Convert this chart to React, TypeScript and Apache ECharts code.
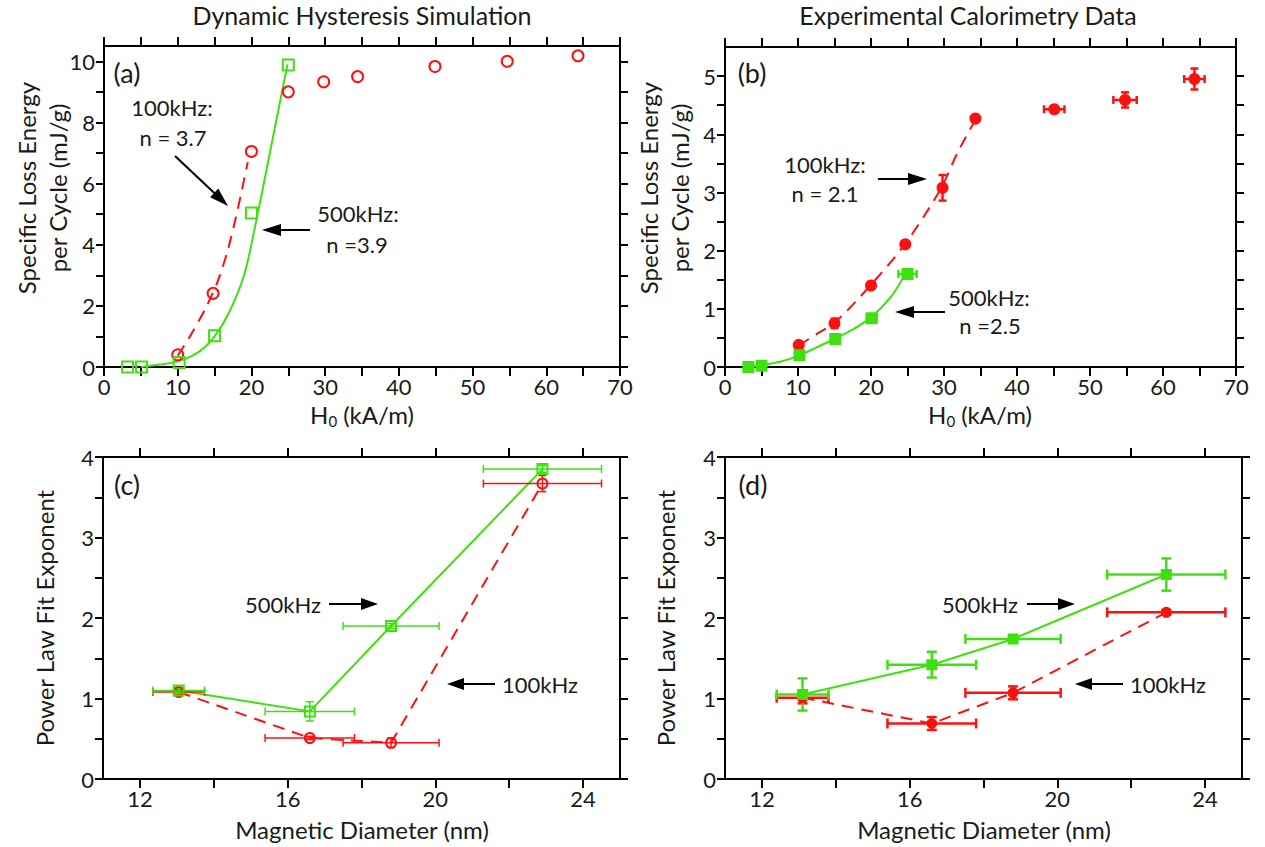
import React, { useEffect, useRef } from "react";
import * as echarts from "echarts";

const RED = "#ff1010";
const GREEN = "#3fe010";
const FONT = "Lato, 'Noto Sans', sans-serif";
const TEXT = "#1a1a1a";

// ---------- Panel (a): Dynamic Hysteresis Simulation ----------
const simField100 = [10.0, 14.8, 20.0, 25.0, 29.8, 34.4, 44.9, 54.7, 64.3];
const simLoss100 = [0.4, 2.41, 7.05, 9.0, 9.33, 9.5, 9.83, 10.0, 10.18];
const simField500 = [3.2, 5.1, 10.2, 15.0, 20.0, 25.0];
const simLoss500 = [0.0, 0.0, 0.15, 1.02, 5.04, 9.88];
const simFitField100 = [10.0, 11.9, 13.9, 15.5, 16.8, 17.8, 18.7, 19.5];
const simFitLoss100 = [0.37, 1.1, 1.98, 2.85, 3.83, 4.8, 5.78, 6.7];
const simFitField500 = [5.0, 7.6, 10.3, 13.0, 15.0, 17.0, 19.0, 20.5, 22.5, 23.9, 24.9];
const simFitLoss500 = [0.0, 0.08, 0.2, 0.52, 1.0, 1.8, 3.0, 4.6, 7.0, 8.7, 9.9];

// ---------- Panel (b): Experimental Calorimetry Data ----------
const expField100 = [10.1, 15.0, 20.0, 24.7, 29.8, 34.3, 45.1, 54.8, 64.3];
const expLoss100 = [0.38, 0.75, 1.4, 2.11, 3.08, 4.27, 4.43, 4.59, 4.95];
const expField100Err = [0, 0, 0, 0, 0, 0, 1.4, 1.6, 1.4];
const expLoss100Err = [0, 0.08, 0.05, 0.04, 0.22, 0.03, 0.05, 0.13, 0.18];
const expField500 = [3.2, 5.0, 10.2, 15.1, 20.1, 25.0];
const expLoss500 = [0.0, 0.02, 0.2, 0.48, 0.84, 1.6];
const expField500Err = [0, 0, 0, 0, 0.7, 1.25];
const expLoss500Err = [0, 0, 0, 0, 0, 0];
const expFitField100 = [10.1, 12.6, 15.1, 19.9, 24.7, 29.5, 31.8, 34.3];
const expFitLoss100 = [0.37, 0.57, 0.77, 1.4, 2.12, 3.05, 3.67, 4.25];
const expFitField500 = [3.2, 4.8, 7.55, 10.2, 12.6, 15.1, 17.6, 20.15, 22.7, 24.7];
const expFitLoss500 = [0.0, 0.03, 0.09, 0.2, 0.34, 0.49, 0.65, 0.87, 1.2, 1.6];

// ---------- Panel (c): simulated power-law exponents ----------
const simDiam = [13.05, 16.6, 18.8, 22.9];
const simDiamErr = [0.7, 1.21, 1.3, 1.6];
const simExp500 = [1.1, 0.84, 1.9, 3.85];
const simExp500Err = [0.03, 0.12, 0.03, 0.04];
const simExp100 = [1.08, 0.51, 0.45, 3.67];
const simExp100Err = [0.03, 0.02, 0.06, 0.1];

// ---------- Panel (d): experimental power-law exponents ----------
const expDiam = [13.1, 16.6, 18.8, 22.95];
const expDiamErr = [0.7, 1.2, 1.29, 1.6];
const expExp500 = [1.05, 1.42, 1.74, 2.54];
const expExp500Err = [0.2, 0.16, 0.03, 0.2];
const expExp100 = [1.01, 0.69, 1.07, 2.07];
const expExp100Err = [0.07, 0.08, 0.08, 0.03];

// ---------- ticks ----------
const fieldLabels = [0, 10, 20, 30, 40, 50, 60, 70];
const fieldTicks = [0, 5, 10, 15, 20, 25, 30, 35, 40, 45, 50, 55, 60, 65, 70];
const simLossLabels = [0, 2, 4, 6, 8, 10];
const simLossTicks = [0, 1, 2, 3, 4, 5, 6, 7, 8, 9, 10];
const expLossLabels = [0, 1, 2, 3, 4, 5];
const expLossTicks = [0, 0.5, 1, 1.5, 2, 2.5, 3, 3.5, 4, 4.5, 5];
const diamLabels = [12, 16, 20, 24];
const diamTicks = [12, 14, 16, 18, 20, 22, 24];
const exponentLabels = [0, 1, 2, 3, 4];
const exponentTicks = [0, 0.5, 1, 1.5, 2, 2.5, 3, 3.5, 4];

const TICK_FONT = 22;
const NOTE_FONT = 22;
const AXIS_FONT = 24;
const TITLE_FONT = 25;

const zip = (a: number[], b: number[]) => a.map((v, i) => [v, b[i]]);

function xAxisDef(grid: number, min: number, max: number, ticks: number[], labels: number[], top: boolean) {
  return {
    type: "value",
    gridIndex: grid,
    min,
    max,
    position: top ? "top" : "bottom",
    axisLine: { show: true, onZero: false, lineStyle: { color: "#000", width: 2 } },
    axisTick: { show: true, inside: false, length: 9, customValues: ticks, lineStyle: { color: "#000", width: 2 } },
    minorTick: { show: false },
    axisLabel: { show: !top, customValues: labels, margin: 8, fontSize: TICK_FONT, fontFamily: FONT, color: TEXT },
    splitLine: { show: false },
  };
}

function yAxisDef(grid: number, min: number, max: number, ticks: number[], labels: number[], right: boolean) {
  return {
    type: "value",
    gridIndex: grid,
    min,
    max,
    position: right ? "right" : "left",
    axisLine: { show: true, onZero: false, lineStyle: { color: "#000", width: 2 } },
    axisTick: { show: true, inside: false, length: 8, customValues: ticks, lineStyle: { color: "#000", width: 2 } },
    axisLabel: { show: !right, customValues: labels, margin: 9, fontSize: TICK_FONT, fontFamily: FONT, color: TEXT },
    splitLine: { show: false },
  };
}

function lineSeries(ax: number, xs: number[], ys: number[], color: string, dashed: boolean, smooth: boolean | number) {
  return {
    type: "line",
    xAxisIndex: ax,
    yAxisIndex: ax,
    data: zip(xs, ys),
    showSymbol: false,
    symbol: "none",
    smooth,
    lineStyle: { color, width: 2, type: dashed ? [12, 8] : "solid" },
    silent: true,
    z: 2,
  };
}

function markerSeries(ax: number, xs: number[], ys: number[], color: string, symbol: string, size: number, filled: boolean) {
  return {
    type: "scatter",
    xAxisIndex: ax,
    yAxisIndex: ax,
    data: zip(xs, ys),
    symbol,
    symbolSize: size,
    itemStyle: { color: filled ? color : "rgba(255,255,255,0)", borderColor: color, borderWidth: 2, opacity: 1 },
    silent: true,
    z: 4,
  };
}

function errorSeries(ax: number, xs: number[], ys: number[], xe: number[], ye: number[], color: string, width: number, cap: number) {
  return {
    type: "custom",
    xAxisIndex: ax,
    yAxisIndex: ax,
    data: xs.map((x, i) => [x, ys[i], xe[i], ye[i]]),
    encode: { x: 0, y: 1 },
    silent: true,
    z: 3,
    renderItem: (_params: any, api: any) => {
      const x = api.value(0);
      const y = api.value(1);
      const dx = api.value(2);
      const dy = api.value(3);
      const st = { stroke: color, lineWidth: width };
      const children: any[] = [];
      if (dx > 0) {
        const l = api.coord([x - dx, y]);
        const r = api.coord([x + dx, y]);
        children.push({ type: "line", shape: { x1: l[0], y1: l[1], x2: r[0], y2: r[1] }, style: st });
        children.push({ type: "line", shape: { x1: l[0], y1: l[1] - cap, x2: l[0], y2: l[1] + cap }, style: st });
        children.push({ type: "line", shape: { x1: r[0], y1: r[1] - cap, x2: r[0], y2: r[1] + cap }, style: st });
      }
      if (dy > 0) {
        const b = api.coord([x, y - dy]);
        const t = api.coord([x, y + dy]);
        children.push({ type: "line", shape: { x1: b[0], y1: b[1], x2: t[0], y2: t[1] }, style: st });
        children.push({ type: "line", shape: { x1: b[0] - cap, y1: b[1], x2: b[0] + cap, y2: b[1] }, style: st });
        children.push({ type: "line", shape: { x1: t[0] - cap, y1: t[1], x2: t[0] + cap, y2: t[1] }, style: st });
      }
      return { type: "group", children };
    },
  };
}

function arrow(x1: number, y1: number, x2: number, y2: number, L = 19, W = 6) {
  const a = Math.atan2(y2 - y1, x2 - x1);
  const c = Math.cos(a);
  const s = Math.sin(a);
  const bx = x2 - L * c;
  const by = y2 - L * s;
  return [
    { type: "line", shape: { x1, y1, x2: bx + 2 * c, y2: by + 2 * s }, style: { stroke: "#000", lineWidth: 2 } },
    {
      type: "polygon",
      shape: { points: [[x2, y2], [bx + W * s, by - W * c], [bx - W * s, by + W * c]] },
      style: { fill: "#000" },
    },
  ];
}

function label(text: string, x: number, y: number, size = NOTE_FONT, rotate = false) {
  return {
    type: "text",
    x,
    y,
    rotation: rotate ? Math.PI / 2 : 0,
    style: {
      text,
      font: `${size}px ${FONT}`,
      fontSize: size,
      fontFamily: FONT,
      fill: TEXT,
      align: "center",
      verticalAlign: "middle",
    },
  };
}

function fieldLabel(x: number, y: number) {
  return {
    type: "text",
    x,
    y,
    style: {
      text: "{m|H}{s|0}{m| (kA/m)}",
      align: "center",
      verticalAlign: "middle",
      fill: TEXT,
      font: `${AXIS_FONT}px ${FONT}`,
      rich: {
        m: { font: `${AXIS_FONT}px ${FONT}`, fill: TEXT, lineHeight: 28, verticalAlign: "middle" },
        s: { font: `15px ${FONT}`, fill: TEXT, lineHeight: 12, verticalAlign: "bottom" },
      },
    },
  };
}

function buildOption() {
  const grids = [
    { left: 104, top: 46, width: 516, height: 321 },
    { left: 725, top: 47, width: 511, height: 320 },
    { left: 103, top: 457, width: 517, height: 322 },
    { left: 725, top: 457, width: 517, height: 322 },
  ].map((g) => ({ ...g, show: false, outerBoundsMode: "none", containLabel: false }));

  const xAxis = [
    xAxisDef(0, 0, 70, fieldTicks, fieldLabels, false),
    xAxisDef(0, 0, 70, fieldTicks, [], true),
    xAxisDef(1, 0, 70, fieldTicks, fieldLabels, false),
    xAxisDef(1, 0, 70, fieldTicks, [], true),
    xAxisDef(2, 11, 25, diamTicks, diamLabels, false),
    xAxisDef(2, 11, 25, diamTicks, [], true),
    xAxisDef(3, 11, 25, diamTicks, diamLabels, false),
    xAxisDef(3, 11, 25, diamTicks, [], true),
  ];
  const yAxis = [
    yAxisDef(0, 0, 10.5, simLossTicks, simLossLabels, false),
    yAxisDef(0, 0, 10.5, simLossTicks, [], true),
    yAxisDef(1, 0, 5.5, expLossTicks, expLossLabels, false),
    yAxisDef(1, 0, 5.5, expLossTicks, [], true),
    yAxisDef(2, 0, 4, exponentTicks, exponentLabels, false),
    yAxisDef(2, 0, 4, exponentTicks, [], true),
    yAxisDef(3, 0, 4, exponentTicks, exponentLabels, false),
    yAxisDef(3, 0, 4, exponentTicks, [], true),
  ];

  const series: any[] = [
    // (a)
    lineSeries(0, simFitField100, simFitLoss100, RED, true, 0.3),
    lineSeries(0, simFitField500, simFitLoss500, GREEN, false, 0.3),
    markerSeries(0, simField100, simLoss100, RED, "circle", 11, false),
    markerSeries(0, simField500, simLoss500, GREEN, "rect", 11, false),
    // (b)
    lineSeries(2, expFitField100, expFitLoss100, RED, true, 0.3),
    lineSeries(2, expFitField500, expFitLoss500, GREEN, false, 0.3),
    errorSeries(2, expField100, expLoss100, expField100Err, expLoss100Err, RED, 2.5, 4),
    errorSeries(2, expField500, expLoss500, expField500Err, expLoss500Err, GREEN, 2.5, 4),
    markerSeries(2, expField100, expLoss100, RED, "circle", 10, true),
    markerSeries(2, expField500, expLoss500, GREEN, "rect", 10, true),
    // (c)
    errorSeries(4, simDiam, simExp100, simDiamErr, simExp100Err, RED, 1.5, 4),
    errorSeries(4, simDiam, simExp500, simDiamErr, simExp500Err, GREEN, 1.5, 4),
    lineSeries(4, simDiam, simExp100, RED, true, false),
    lineSeries(4, simDiam, simExp500, GREEN, false, false),
    markerSeries(4, simDiam, simExp100, RED, "circle", 10, false),
    markerSeries(4, simDiam, simExp500, GREEN, "rect", 10, false),
    // (d)
    errorSeries(6, expDiam, expExp100, expDiamErr, expExp100Err, RED, 2.5, 5),
    errorSeries(6, expDiam, expExp500, expDiamErr, expExp500Err, GREEN, 2.5, 5),
    lineSeries(6, expDiam, expExp100, RED, true, false),
    lineSeries(6, expDiam, expExp500, GREEN, false, false),
    markerSeries(6, expDiam, expExp100, RED, "circle", 9, true),
    markerSeries(6, expDiam, expExp500, GREEN, "rect", 9, true),
  ];

  const graphic: any[] = [
    label("Dynamic Hysteresis Simulation", 362, 15, TITLE_FONT),
    label("Experimental Calorimetry Data", 968, 15, TITLE_FONT),
    label("Specific Loss Energy", 26, 188, AXIS_FONT, true),
    label("per Cycle (mJ/g)", 57, 188, AXIS_FONT, true),
    label("Specific Loss Energy", 648, 188, AXIS_FONT, true),
    label("per Cycle (mJ/g)", 679, 188, AXIS_FONT, true),
    label("Power Law Fit Exponent", 44, 618, AXIS_FONT, true),
    label("Power Law Fit Exponent", 665, 618, AXIS_FONT, true),
    fieldLabel(362, 414),
    fieldLabel(980, 414),
    label("Magnetic Diameter (nm)", 362, 829, AXIS_FONT),
    label("Magnetic Diameter (nm)", 984, 829, AXIS_FONT),
    label("(a)", 127, 72, 27),
    label("(b)", 752, 72, 27),
    label("(c)", 127, 484, 27),
    label("(d)", 753, 484, 27),
    label("100kHz:", 172, 107),
    label("n = 3.7", 173, 137),
    label("500kHz:", 358, 213),
    label("n =3.9", 357, 244),
    label("100kHz:", 825, 164),
    label("n = 2.1", 825, 193),
    label("500kHz:", 989, 297),
    label("n =2.5", 990, 325),
    label("500kHz", 283, 604),
    label("100kHz", 540, 684),
    label("500kHz", 980, 604),
    label("100kHz", 1168, 684),
    ...arrow(175, 156, 228, 206),
    ...arrow(310, 230, 262, 230),
    ...arrow(878, 179, 927, 179),
    ...arrow(945, 312, 895, 312),
    ...arrow(329, 604, 378, 604, 17),
    ...arrow(495, 684, 447, 684, 17),
    ...arrow(1027, 604, 1075, 604, 17),
    ...arrow(1123, 684, 1075, 684, 17),
  ];

  return {
    animation: false,
    backgroundColor: "#ffffff",
    textStyle: { fontFamily: FONT },
    grid: grids,
    xAxis,
    yAxis,
    series,
    graphic,
  };
}

export default function App() {
  const ref = useRef<HTMLDivElement>(null);
  useEffect(() => {
    if (!ref.current) return;
    const chart = echarts.init(ref.current, null, { renderer: "svg" });
    chart.setOption(buildOption() as any);
    return () => chart.dispose();
  }, []);
  return (
    <div
      ref={ref}
      style={{ position: "absolute", left: 0, top: 0, width: 1265, height: 847, background: "#fff" }}
    />
  );
}
